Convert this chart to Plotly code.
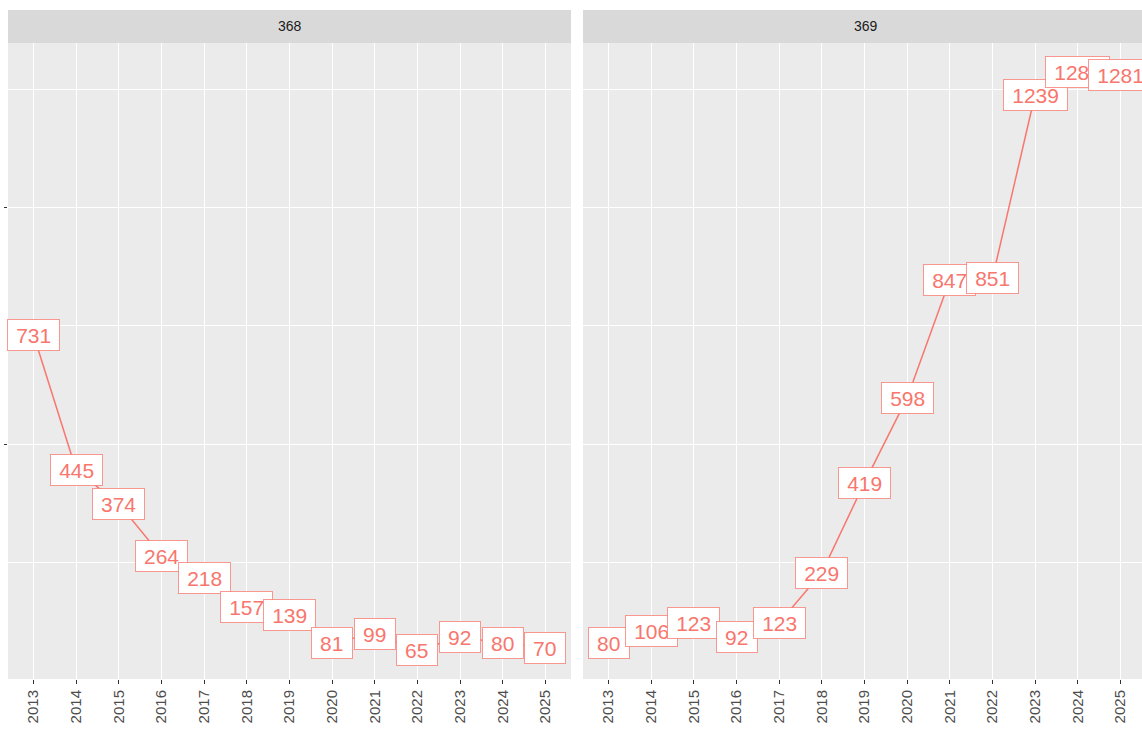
import plotly.graph_objects as go

years = [2013, 2014, 2015, 2016, 2017, 2018, 2019, 2020, 2021, 2022, 2023, 2024, 2025]
panel_names = ["368", "369"]
values_368 = [731, 445, 374, 264, 218, 157, 139, 81, 99, 65, 92, 80, 70]
values_369 = [80, 106, 123, 92, 123, 229, 419, 598, 847, 851, 1239, 1287, 1281]

W, H = 1142, 733
LINE = "#F8766D"
FONT = "Liberation Sans, Arial, sans-serif"

fig = go.Figure()

panels = [
    (values_368, "x", "y", (8, 571)),
    (values_369, "x2", "y2", (583, 1142)),
]
py_top, py_bot = 43, 679
ydom = [1 - py_bot / H, 1 - py_top / H]

vmin = min(values_368 + values_369)
vmax = max(values_368 + values_369)
span = vmax - vmin
yrange = [vmin - 0.05 * span, vmax + 0.05 * span]

px_per_year = (571 - 8) / 13.2

annotations = []
shapes = []
for i, (vals, xa, ya, (x0, x1)) in enumerate(panels):
    fig.add_trace(go.Scatter(x=years, y=vals, mode="lines", xaxis=xa, yaxis=ya,
                             line=dict(color=LINE, width=1.5), hoverinfo="skip",
                             showlegend=False))
    for yr, v in zip(years, vals):
        t = str(v)
        annotations.append(dict(x=yr, y=v, xref=xa, yref=ya, text=t, showarrow=False,
                                font=dict(family=FONT, size=21, color=LINE),
                                bgcolor="white", bordercolor="rgba(248,118,109,0.75)",
                                borderwidth=1,
                                borderpad=1, width=len(t) * 11.8 + 14, height=28,
                                align="center", valign="middle"))
    # strip
    shapes.append(dict(type="rect", xref="paper", yref="paper",
                       x0=x0 / W, x1=x1 / W, y0=1 - py_top / H, y1=1 - 10 / H,
                       fillcolor="#D9D9D9", line=dict(width=0), layer="below"))
    annotations.append(dict(x=(x0 + x1) / 2 / W if i == 0 else (583 + 1148) / 2 / W,
                            y=1 - 26.5 / H, xref="paper", yref="paper",
                            text=panel_names[i], showarrow=False,
                            font=dict(family=FONT, size=14, color="#1A1A1A"),
                            xanchor="center", yanchor="middle"))

    xr_end = 2012.4 + (x1 - x0) / px_per_year
    axis_x = dict(domain=[x0 / W, x1 / W], range=[2012.4, xr_end],
                  tickmode="array", tickvals=years, ticktext=[str(y) for y in years],
                  tickangle=-90, ticks="outside", ticklen=4, tickcolor="#333333",
                  tickwidth=1, tickfont=dict(family=FONT, size=15, color="#4D4D4D"),
                  showgrid=True, gridcolor="white", gridwidth=1.3, zeroline=False,
                  showline=False, fixedrange=True)
    axis_y = dict(domain=ydom, range=yrange, tick0=0, dtick=500,
                  showgrid=True, gridcolor="white", gridwidth=1.3, zeroline=False,
                  showline=False, showticklabels=False,
                  ticks="outside" if i == 0 else "", ticklen=3, tickcolor="#333333",
                  minor=dict(dtick=250, tick0=0, showgrid=True, gridcolor="white",
                             gridwidth=1.0, ticks=""),
                  fixedrange=True)
    if i == 0:
        fig.update_layout(xaxis=axis_x, yaxis=axis_y)
    else:
        axis_x["anchor"] = "y2"
        axis_y["anchor"] = "x2"
        fig.update_layout(xaxis2=axis_x, yaxis2=axis_y)
    # panel background
    shapes.append(dict(type="rect", xref="paper", yref="paper",
                       x0=x0 / W, x1=x1 / W, y0=ydom[0], y1=ydom[1],
                       fillcolor="#EBEBEB", line=dict(width=0), layer="below"))

fig.update_layout(width=W, height=H, margin=dict(l=0, r=0, t=0, b=0),
                  paper_bgcolor="white", plot_bgcolor="rgba(0,0,0,0)",
                  shapes=shapes, annotations=annotations, showlegend=False,
                  font=dict(family=FONT))

fig.write_html("out.html", config={"displayModeBar": False},
               post_script="document.body.style.margin='0px';document.body.style.overflow='hidden';")
